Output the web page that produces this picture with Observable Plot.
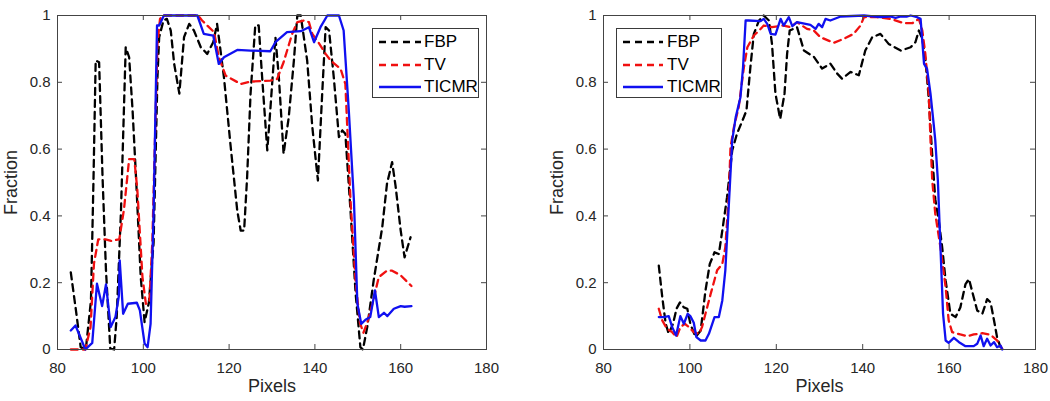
<!DOCTYPE html>
<html><head><meta charset="utf-8">
<script src="https://cdn.jsdelivr.net/npm/d3@7"></script>
<script src="https://cdn.jsdelivr.net/npm/@observablehq/plot@0.6"></script>
<style>
body{margin:0;background:#fff;}
#wrap{position:relative;width:1050px;height:401px;display:flex;font-family:"Liberation Sans",Arial,sans-serif;background:#fff;}
.legend{position:absolute;border:1px solid #3a3a3a;background:#fff;font-size:17px;color:#000;box-sizing:border-box;}
.legend .row{position:absolute;left:0;height:20px;display:flex;align-items:center;}
.legend svg{display:block;}
</style></head>
<body><div id="wrap"></div>
<script>
const xTicks = [80, 100, 120, 140, 160, 180];
const yTicks = [0, 0.2, 0.4, 0.6, 0.8, 1];
const yTickLabels = ["0", "0.2", "0.4", "0.6", "0.8", "1"];
const seriesNames = ["FBP", "TV", "TICMR"];
const seriesColors = ["#000000", "#f01010", "#1010f0"];
const seriesDash = ["7,5", "7,5", "none"];

// Left panel: [pixel, fraction]
const leftFBP = [[83.1,0.231],[84.3,0.117],[85.4,0.007],[86.6,0],[87.8,0.147],[88.4,0.516],[88.9,0.865],[89.7,0.86],[90.5,0.516],[91.3,0.237],[92.3,0.003],[93.2,0],[93.8,0.097],[94.8,0.416],[95.9,0.905],[96.7,0.875],[97.5,0.716],[98.3,0.516],[99.4,0.217],[100.3,0.082],[101.3,0.14],[102.4,0.32],[103.3,0.815],[103.7,0.935],[104.7,0.985],[105.5,0.99],[106.4,0.955],[107.2,0.855],[108.4,0.766],[109.5,0.935],[110.7,0.975],[111.8,0.955],[113.4,0.905],[114.9,0.885],[116.3,0.92],[117.2,0.975],[118.8,0.815],[120.3,0.616],[121.9,0.416],[122.7,0.356],[123.5,0.356],[124.2,0.516],[125,0.766],[126.1,0.97],[126.9,0.97],[127.7,0.815],[128.9,0.596],[129.6,0.716],[130.8,0.935],[131.6,0.815],[132.7,0.586],[133.9,0.695],[135.1,0.865],[135.9,1.0],[136.7,1.0],[138.2,0.865],[139.4,0.666],[140.7,0.506],[141.7,0.766],[142.5,0.965],[143.3,0.955],[144.4,0.815],[145.6,0.636],[146.4,0.656],[147.1,0.646],[148.3,0.416],[149.5,0.167],[150.6,0.007],[151.2,0.0],[152.2,0.067],[153.7,0.207],[155.7,0.366],[156.8,0.496],[158.0,0.561],[158.8,0.49],[160,0.356],[160.9,0.276],[162.3,0.336]];
const leftTV = [[83.1,0],[86.5,0],[87.7,0.067],[88.5,0.257],[89.5,0.33],[91.2,0.33],[92.5,0.325],[94.4,0.33],[95.5,0.42],[96.7,0.57],[97.9,0.57],[98.6,0.48],[99.8,0.217],[100.6,0.137],[101.4,0.14],[102.1,0.32],[103.3,0.916],[103.9,0.99],[104.5,1.0],[112.8,1.0],[113.7,0.985],[116.5,0.95],[117.6,0.875],[119.2,0.82],[122.7,0.795],[125,0.802],[129.6,0.805],[131.2,0.81],[132.7,0.86],[134.7,0.945],[135.9,0.98],[137.4,0.985],[138.6,0.98],[139.4,0.945],[141,0.916],[142.5,0.885],[143.7,0.865],[146,0.84],[147.1,0.795],[148.3,0.446],[149.5,0.2],[150.5,0.08],[151.3,0.05],[152.2,0.08],[153.4,0.137],[154.9,0.217],[156.8,0.236],[158,0.236],[160,0.222],[162.5,0.19]];
const leftTICMR = [[83.1,0.057],[84.2,0.072],[86.5,0],[88.1,0.02],[89.2,0.197],[90.4,0.13],[91.3,0.195],[92.4,0.067],[93.5,0.097],[94.3,0.16],[94.5,0.267],[95.3,0.107],[96.4,0.137],[98.5,0.14],[99.2,0.117],[100.3,0.018],[101.0,0.007],[101.7,0.077],[102.4,0.41],[103.2,0.97],[103.7,0.97],[104.8,1.0],[112.6,1.0],[114.1,0.945],[116.3,0.94],[117.6,0.855],[118.8,0.875],[121.9,0.897],[125,0.895],[129.6,0.893],[130.8,0.92],[133.5,0.95],[136.7,0.953],[138.6,0.965],[139.8,0.92],[141.3,0.965],[142.9,1.0],[145.6,1.0],[146.7,0.955],[147.9,0.716],[149.1,0.446],[149.9,0.137],[150.8,0.077],[151.9,0.09],[152.9,0.097],[154.0,0.177],[154.9,0.097],[156.1,0.11],[156.9,0.1],[158.4,0.122],[160.0,0.13],[160.9,0.128],[162.5,0.13]];

// Right panel: [pixel, fraction]
const rightFBP = [[92.8,0.251],[93.6,0.157],[94.4,0.077],[95.1,0.047],[96.1,0.077],[96.9,0.122],[97.7,0.141],[98.6,0.126],[99.4,0.122],[100.1,0.077],[101.3,0.037],[102.5,0.057],[103.6,0.176],[104.6,0.256],[105.7,0.291],[106.7,0.286],[107.5,0.356],[108.6,0.456],[109.8,0.596],[110.9,0.646],[112.5,0.696],[113.1,0.716],[114.0,0.845],[114.8,0.945],[116.0,0.985],[117.1,1.0],[118.3,0.985],[119.0,0.915],[119.8,0.766],[120.9,0.69],[121.9,0.766],[122.5,0.885],[123.1,0.955],[124.8,0.965],[126.4,0.895],[128.7,0.876],[130.6,0.841],[132.5,0.856],[134.1,0.826],[135.2,0.811],[137.2,0.831],[139.1,0.821],[140.6,0.895],[142.2,0.935],[144.1,0.945],[146.0,0.915],[148.8,0.895],[151.1,0.905],[152.2,0.92],[153.0,0.955],[153.8,0.93],[154.5,0.87],[155.3,0.75],[156.0,0.6],[156.8,0.45],[157.6,0.386],[158.4,0.306],[159.2,0.206],[160.3,0.107],[161.5,0.097],[162.6,0.126],[163.8,0.196],[164.6,0.211],[165.3,0.176],[166.5,0.117],[167.7,0.107],[168.8,0.151],[169.6,0.141],[170.4,0.087],[171.1,0.037],[171.9,0.007]];
const rightTV = [[92.8,0.122],[93.6,0.087],[94.7,0.062],[95.9,0.052],[96.9,0.037],[97.8,0.067],[98.8,0.077],[99.8,0.067],[100.9,0.052],[102.1,0.047],[102.8,0.067],[103.6,0.107],[104.8,0.166],[106.3,0.237],[107.5,0.256],[108.2,0.306],[109.0,0.456],[109.4,0.606],[110.2,0.666],[111.3,0.726],[112.5,0.845],[113.3,0.905],[114.8,0.94],[116.0,0.955],[117.1,0.97],[119.0,0.965],[121.7,0.97],[123.3,0.965],[124.8,0.98],[127.1,0.96],[128.7,0.955],[130.2,0.935],[133.3,0.918],[135.6,0.93],[137.9,0.945],[139.5,0.97],[140.3,0.995],[143.3,0.995],[146.4,0.99],[149.5,0.977],[151.5,0.977],[153,0.99],[153.8,0.955],[154.5,0.885],[155.3,0.765],[155.7,0.626],[156.1,0.506],[156.8,0.406],[158,0.306],[159.2,0.186],[159.9,0.087],[160.7,0.052],[162.6,0.045],[164.2,0.04],[165.7,0.045],[167.7,0.049],[169.6,0.044],[171.1,0.027],[172.3,0.002]];
const rightTICMR = [[92.8,0.097],[94.0,0.097],[95.1,0.1],[95.9,0.067],[96.8,0.042],[97.8,0.1],[98.6,0.077],[99.5,0.107],[100.1,0.1],[100.9,0.08],[101.5,0.037],[102.5,0.027],[103.6,0.027],[104.4,0.047],[105.7,0.097],[106.7,0.097],[107.5,0.147],[108.2,0.237],[109.0,0.43],[109.8,0.626],[110.6,0.695],[111.7,0.755],[112.3,0.845],[112.9,0.985],[113.6,0.985],[116.3,0.983],[117.1,0.99],[117.9,0.975],[118.7,0.945],[119.8,0.943],[121.0,0.99],[121.7,0.97],[122.9,0.995],[123.7,0.968],[124.8,0.98],[127.9,0.972],[129.1,0.96],[129.8,0.975],[130.6,0.965],[131.4,0.99],[132.5,0.985],[134.9,0.997],[140.3,1.0],[144.1,0.995],[146.4,0.997],[147.6,0.993],[148.8,0.997],[150.3,0.997],[151.1,1.0],[152.6,0.995],[153.4,0.99],[154.2,0.855],[154.9,0.84],[155.7,0.765],[156.5,0.666],[156.8,0.626],[157.4,0.506],[158.0,0.306],[158.6,0.107],[159.2,0.027],[159.9,0.02],[161.1,0.035],[162.3,0.022],[163.8,0.01],[165.7,0.01],[166.5,0.017],[167.3,0.042],[168.0,0.01],[168.8,0.032],[169.6,0.012],[170.4,0.022],[171.1,0.007],[171.9,0.012],[172.3,0.0]];

const W = 525, H = 401, MT = 15, MB = 52, TICK = 5;
const FONT = '"Liberation Sans", Arial, sans-serif';

function makePanel(series, ml, mr) {
  const pw = W - ml - mr, ph = H - MT - MB;
  const marks = [];
  series.forEach((pts, i) => {
    const rows = pts.map(([x, v]) => ({x, v}));
    marks.push(Plot.line(rows, {x: "x", y: "v", stroke: seriesColors[i], strokeWidth: 2.3,
      strokeDasharray: seriesDash[i], curve: "linear"}));
  });
  marks.push(
    Plot.frame({stroke: "#444", strokeWidth: 1}),
    Plot.tickX(xTicks, {x: d => d, stroke: "#444", insetTop: ph - TICK}),
    Plot.tickX(xTicks, {x: d => d, stroke: "#444", insetBottom: ph - TICK}),
    Plot.tickY(yTicks, {y: d => d, stroke: "#444", insetRight: pw - TICK}),
    Plot.tickY(yTicks, {y: d => d, stroke: "#444", insetLeft: pw - TICK}),
    Plot.axisX({ticks: xTicks, tickSize: 0, tickPadding: 13, fontSize: 15, fill: "#262626",
      label: "Pixels", labelAnchor: "center", labelArrow: "none", labelOffset: 42}),
    Plot.axisY({ticks: yTicks, tickFormat: (d) => yTickLabels[yTicks.indexOf(d)], tickSize: 0, tickPadding: 7,
      fontSize: 15, fill: "#262626",
      label: "Fraction", labelAnchor: "center", labelArrow: "none", labelOffset: 53})
  );
  const svg = Plot.plot({
    width: W, height: H, marginTop: MT, marginBottom: MB, marginLeft: ml, marginRight: mr,
    x: {domain: [80, 180]}, y: {domain: [0, 1]},
    style: {fontFamily: FONT, background: "#fff", overflow: "visible"},
    marks
  });
  svg.querySelectorAll('g[aria-label="x-axis label"] text, g[aria-label="y-axis label"] text').forEach(t => {
    t.setAttribute("font-size", "18"); t.style.fontSize = "18px";
  });
  return svg;
}

function makeLegend(left, top, width, lineLen, textLeft) {
  const box = document.createElement("div");
  box.className = "legend";
  box.style.left = left + "px"; box.style.top = top + "px";
  box.style.width = width + "px"; box.style.height = "70px";
  seriesNames.forEach((name, i) => {
    const row = document.createElement("div");
    row.className = "row";
    row.style.top = (3 + i * 22.5) + "px";
    row.style.left = "6px";
    const ns = "http://www.w3.org/2000/svg";
    const s = document.createElementNS(ns, "svg");
    s.setAttribute("width", lineLen); s.setAttribute("height", 20);
    const l = document.createElementNS(ns, "line");
    l.setAttribute("x1", 0); l.setAttribute("x2", lineLen); l.setAttribute("y1", 10); l.setAttribute("y2", 10);
    l.setAttribute("stroke", seriesColors[i]); l.setAttribute("stroke-width", 2.5);
    if (seriesDash[i] !== "none") l.setAttribute("stroke-dasharray", seriesDash[i]);
    s.appendChild(l);
    const t = document.createElement("span");
    t.textContent = name; t.style.marginLeft = textLeft + "px";
    row.appendChild(s); row.appendChild(t);
    box.appendChild(row);
  });
  return box;
}

const wrap = document.getElementById("wrap");
wrap.appendChild(makePanel([leftFBP, leftTV, leftTICMR], 57, 39));
wrap.appendChild(makePanel([rightFBP, rightTV, rightTICMR], 78, 15));
wrap.appendChild(makeLegend(372, 28, 107, 42, 3));
wrap.appendChild(makeLegend(616, 28, 106, 40, 4));
</script>
</body></html>
